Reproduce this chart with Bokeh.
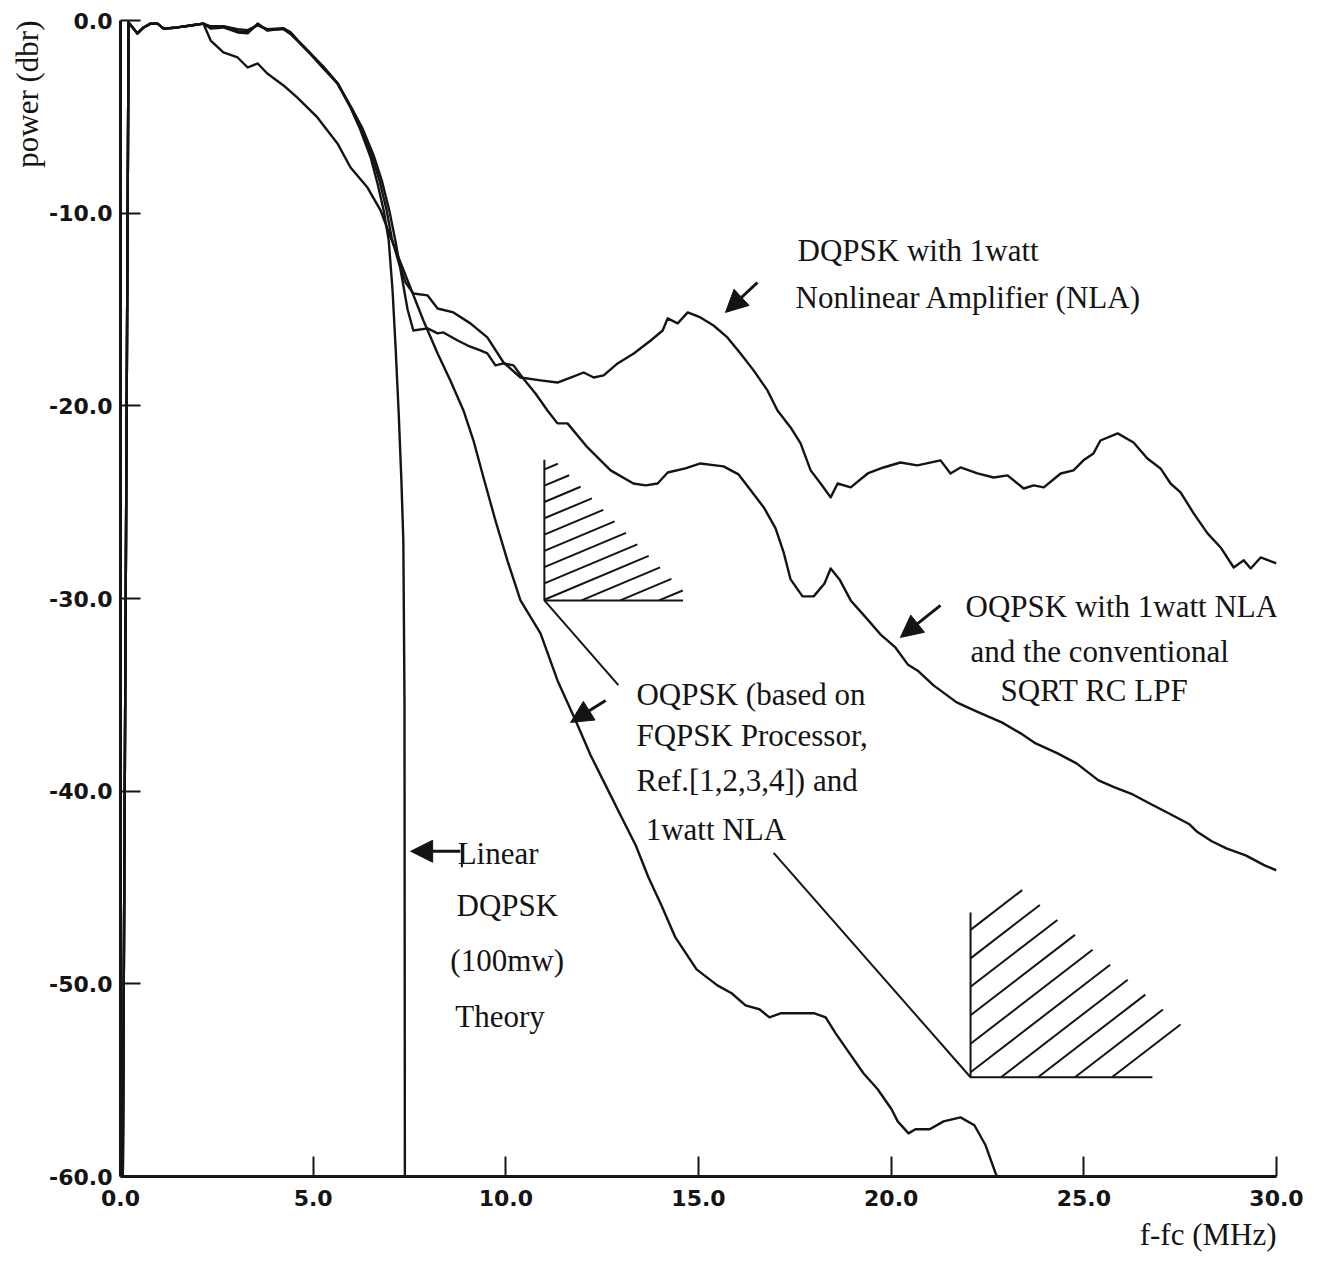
import numpy as np
from bokeh.plotting import figure
from bokeh.models import (FixedTicker, PrintfTickFormatter, Label, Arrow,
                          NormalHead, Range1d, Title)
from bokeh.embed import file_html
from bokeh.resources import INLINE

# ---------------- data ----------------
x_ticks = [0, 5, 10, 15, 20, 25, 30]
y_ticks = [-60, -50, -40, -30, -20, -10, 0]

top_f = [0.06, 0.21, 0.44, 0.60, 0.78, 0.96, 1.12, 1.48, 1.82, 2.15]
top_p = [-60.0, -0.10, -0.67, -0.36, -0.16, -0.16, -0.42, -0.36, -0.26, -0.16]

theory_f = top_f + [2.34, 2.67, 3.04, 3.30, 3.56, 3.81, 4.23, 4.41, 4.59, 4.93,
                    5.27, 5.63, 5.97, 6.23, 6.49, 6.67, 6.83, 6.96, 7.06, 7.14,
                    7.22, 7.29, 7.34, 7.37, 7.38]
theory_p = top_p + [-0.30, -0.30, -0.45, -0.50, -0.25, -0.45, -0.40, -0.60, -1.00, -1.70,
                    -2.40, -3.25, -4.50, -5.70, -7.10, -8.46, -9.86, -11.4, -14.0, -17.0,
                    -20.4, -23.9, -27.0, -35.3, -60.0]

nla_f = top_f + [2.34, 2.67, 3.04, 3.30, 3.56, 3.81, 4.23, 4.41, 4.59, 4.93, 5.27,
                 5.63, 5.97, 6.23, 6.52, 6.72, 6.90, 7.04, 7.22, 7.40, 7.60, 7.97,
                 8.23, 8.64, 9.08, 9.52, 9.94, 10.38, 10.90, 11.34, 11.68, 12.02,
                 12.28, 12.54, 12.90, 13.32, 13.76, 14.07, 14.20, 14.46, 14.72, 15.05,
                 15.39, 15.75, 16.09, 16.43, 16.79, 17.05, 17.39, 17.65, 17.91, 18.17,
                 18.43, 18.61, 18.95, 19.39, 19.80, 20.24, 20.68, 21.28, 21.54, 21.80,
                 22.24, 22.66, 23.02, 23.44, 23.70, 23.96, 24.40, 24.73, 24.99, 25.25,
                 25.43, 25.88, 26.29, 26.65, 26.99, 27.25, 27.51, 27.85, 28.21, 28.55,
                 28.89, 29.15, 29.33, 29.59, 30.00]
nla_p = top_p + [-0.42, -0.36, -0.62, -0.67, -0.16, -0.52, -0.42, -0.67, -1.04, -1.71, -2.44,
                 -3.27, -4.51, -5.60, -7.00, -8.30, -9.80, -11.30, -12.56, -13.60, -14.17, -14.27,
                 -14.95, -15.15, -15.72, -16.45, -17.75, -18.53, -18.68, -18.79, -18.53, -18.27,
                 -18.53, -18.42, -17.80, -17.28, -16.61, -16.09, -15.46, -15.72, -15.15, -15.41,
                 -15.83, -16.45, -17.28, -18.16, -19.20, -20.24, -21.12, -21.95, -23.35, -24.03,
                 -24.75, -24.03, -24.23, -23.51, -23.20, -22.94, -23.09, -22.83, -23.51, -23.20,
                 -23.51, -23.72, -23.61, -24.29, -24.13, -24.23, -23.51, -23.35, -22.83, -22.47,
                 -21.80, -21.43, -21.90, -22.73, -23.25, -24.03, -24.49, -25.58, -26.62, -27.35,
                 -28.39, -28.02, -28.44, -27.87, -28.18]

lpf_f = top_f + [2.34, 2.67, 3.04, 3.30, 3.56, 3.81, 4.23, 4.41, 4.59, 4.93, 5.27,
                 5.65, 6.00, 6.28, 6.57, 6.78, 6.98, 7.14, 7.30, 7.45, 7.60, 7.97,
                 8.23, 8.38, 8.75, 9.01, 9.34, 9.52, 9.73, 9.94, 10.20, 10.43, 10.77,
                 11.08, 11.34, 11.60, 12.12, 12.72, 13.31, 13.63, 13.94, 14.20, 14.66,
                 15.05, 15.44, 15.65, 16.04, 16.32, 16.71, 17.00, 17.21, 17.39, 17.70,
                 17.99, 18.27, 18.43, 18.66, 18.95, 19.34, 19.72, 20.11, 20.43, 20.71,
                 21.10, 21.70, 22.27, 22.87, 23.36, 23.75, 24.32, 24.81, 25.38, 25.80,
                 26.27, 26.76, 27.25, 27.74, 27.93, 28.32, 28.70, 29.20, 29.69, 30.00]
lpf_p = top_p + [-0.35, -0.30, -0.55, -0.60, -0.20, -0.50, -0.45, -0.70, -1.05, -1.75, -2.50,
                 -3.30, -4.55, -5.60, -7.00, -8.30, -9.90, -11.50, -13.30, -15.00, -16.09, -15.98,
                 -16.24, -16.19, -16.61, -16.87, -17.12, -17.28, -17.90, -17.80, -17.90, -18.53, -19.36,
                 -20.24, -20.91, -20.91, -22.16, -23.35, -24.03, -24.13, -24.03, -23.46, -23.25,
                 -22.99, -23.09, -23.14, -23.56, -24.29, -25.32, -26.36, -27.61, -29.01, -29.89,
                 -29.89, -29.22, -28.44, -29.01, -30.10, -30.98, -31.86, -32.54, -33.42, -33.78,
                 -34.51, -35.39, -35.91, -36.43, -37.00, -37.52, -38.04, -38.56, -39.44, -39.80,
                 -40.17, -40.69, -41.20, -41.72, -42.09, -42.60, -42.97, -43.33, -43.85, -44.11]

fq_f = top_f + [2.34, 2.67, 3.04, 3.30, 3.56, 3.81, 4.23, 4.59, 5.11, 5.63, 5.97, 6.41,
                6.75, 7.01, 7.45, 7.86, 8.23, 8.56, 8.90, 9.16, 9.42, 9.73, 10.04, 10.38,
                10.90, 11.34, 11.81, 12.20, 12.59, 12.98, 13.37, 13.70, 14.04, 14.40,
                14.95, 15.49, 15.86, 16.22, 16.58, 16.84, 17.13, 17.49, 18.01, 18.30,
                18.56, 18.92, 19.28, 19.65, 20.01, 20.17, 20.45, 20.63, 21.00, 21.36,
                21.80, 22.16, 22.45, 22.71, 22.75]
fq_p = top_p + [-1.04, -1.66, -1.92, -2.44, -2.23, -2.75, -3.37, -4.00, -5.03, -6.38, -7.63, -8.67,
                -9.86, -11.26, -13.49, -15.57, -17.28, -18.68, -20.24, -21.80, -23.72, -25.95, -28.02, -30.10,
                -31.81, -34.25, -36.33, -38.14, -39.70, -41.26, -42.81, -44.47, -45.93, -47.59,
                -49.25, -50.08, -50.49, -51.12, -51.32, -51.74, -51.53, -51.53, -51.53, -51.74,
                -52.57, -53.61, -54.64, -55.47, -56.51, -57.14, -57.76, -57.55, -57.55, -57.14,
                -56.93, -57.34, -58.38, -59.83, -60.0]

# ---------------- figure ----------------
INK = "#141414"
SERIF = "Liberation Serif"

p = figure(frame_width=1156, frame_height=1156,
           x_range=Range1d(0, 30), y_range=Range1d(-60, 0),
           output_backend="svg", toolbar_location=None,
           min_border_left=120, min_border_top=20,
           min_border_right=30, min_border_bottom=74)
p.outline_line_color = None
p.grid.visible = False
p.background_fill_color = "white"
p.border_fill_color = "white"

for ax, ticks, standoff in ((p.xaxis, x_ticks, 13), (p.yaxis, y_ticks, 8)):
    ax.ticker = FixedTicker(ticks=ticks)
    ax.formatter = PrintfTickFormatter(format="%.1f")
    ax.major_tick_in = 20
    ax.major_tick_out = 0
    ax.minor_tick_line_color = None
    ax.axis_line_width = 3
    ax.axis_line_color = INK
    ax.major_tick_line_width = 2
    ax.major_tick_line_color = INK
    ax.major_label_text_font = "DejaVu Sans"
    ax.major_label_text_font_style = "bold"
    ax.major_label_text_font_size = "22px"
    ax.major_label_text_color = INK
    ax.major_label_standoff = standoff

# axis titles, aligned as in the original (right end of x axis, top of y axis)
p.add_layout(Title(text="f-fc (MHz)", align="right", text_font=SERIF,
                   text_font_size="31px", text_font_style="normal",
                   text_color=INK, standoff=12), "below")
p.add_layout(Title(text="power (dbr)", align="right", text_font=SERIF,
                   text_font_size="31px", text_font_style="normal",
                   text_color=INK, standoff=4), "left")

LW = 2.4
for fx, py in ((theory_f, theory_p), (nla_f, nla_p), (lpf_f, lpf_p), (fq_f, fq_p)):
    p.line(fx, py, line_color=INK, line_width=LW, line_join="round")

# ---------------- hatched spectral-mask sketches ----------------
def hatch(L, B, m, y0s, P1, P2):
    xs0, ys0, xs1, ys1 = [], [], [], []
    (ax_, ay_), (bx_, by_) = P1, P2
    k = (by_ - ay_) / (bx_ - ax_)
    for y0 in y0s:
        if y0 >= B:
            sx, sy = L, y0
        else:
            sx, sy = L + (B - y0) / m, B
        ex = (ay_ - k * ax_ - y0 + m * L) / (m - k)
        ey = y0 + m * (ex - L)
        if ex - sx < 0.25:
            continue
        xs0.append(sx); ys0.append(sy); xs1.append(ex); ys1.append(ey)
    return xs0, ys0, xs1, ys1

# mask 1
t1_L, t1_top, t1_B, t1_R = 11.0, -22.8, -30.1, 14.6
p.line([t1_L, t1_L, t1_R], [t1_top, t1_B, t1_B], line_color=INK, line_width=2)
h = hatch(t1_L, t1_B, 0.84, list(np.linspace(-23.3, -32.6, 12)), (11.2, -22.7), (14.6, -29.6))
p.segment(h[0], h[1], h[2], h[3], line_color=INK, line_width=2)
p.line([t1_L, 12.92], [t1_B, -34.5], line_color=INK, line_width=2)

# mask 2
t2_L, t2_top, t2_B, t2_R = 22.06, -46.3, -54.85, 26.78
p.line([t2_L, t2_L, t2_R], [t2_top, t2_B, t2_B], line_color=INK, line_width=2)
h = hatch(t2_L, t2_B, 1.54, list(np.linspace(-47.2, -60.5, 10)), (23.41, -45.15), (27.38, -51.89))
p.segment(h[0], h[1], h[2], h[3], line_color=INK, line_width=2)
p.line([t2_L, 16.95], [t2_B, -43.2], line_color=INK, line_width=2)

# ---------------- arrows ----------------
for xs, ys, xe, ye in ((16.53, -13.60, 15.70, -15.15),
                       (21.28, -30.36, 20.24, -32.02),
                       (12.59, -35.29, 11.68, -36.43),
                       (8.82, -43.12, 7.53, -43.12)):
    p.add_layout(Arrow(end=NormalHead(size=22, fill_color=INK, line_color=INK),
                       x_start=xs, y_start=ys, x_end=xe, y_end=ye,
                       line_width=3, line_color=INK))
# small bar at the tail of the "Linear" arrow
p.line([8.86, 8.86], [-42.75, -43.95], line_color=INK, line_width=2)

# ---------------- texts ----------------
FS = "31px"
texts = [
    (17.57, -11.94, "DQPSK with 1watt"),
    (17.52, -14.37, "Nonlinear Amplifier (NLA)"),
    (21.93, -30.41, "OQPSK with 1watt NLA"),
    (22.06, -32.75, "and the conventional"),
    (22.84, -34.77, "SQRT RC LPF"),
    (13.39, -34.98, "OQPSK (based on"),
    (13.39, -37.10, "FQPSK Processor,"),
    (13.39, -39.44, "Ref.[1,2,3,4]) and"),
    (13.63, -41.98, "1watt NLA"),
    (8.75, -43.23, "Linear"),
    (8.72, -45.93, "DQPSK"),
    (8.56, -48.78, "(100mw)"),
    (8.69, -51.69, "Theory"),
]
for tx, ty, t in texts:
    p.add_layout(Label(x=tx, y=ty, text=t, text_font=SERIF, text_font_size=FS,
                       text_align="left", text_baseline="middle", text_color=INK))

open("out.html", "w").write(file_html(p, INLINE))
